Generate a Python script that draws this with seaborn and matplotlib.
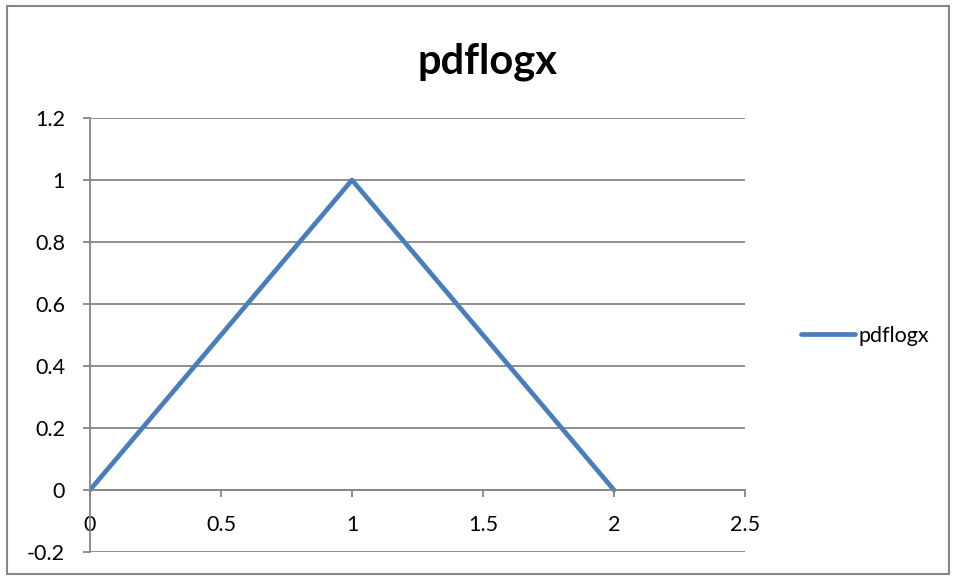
import pandas as pd
import seaborn as sns
import matplotlib.pyplot as plt
from matplotlib.patches import Rectangle

# chart values
x_vals = [0, 1, 2]
y_vals = [0, 1, 0]
series_name = "pdflogx"
x_ticks = [0, 0.5, 1, 1.5, 2, 2.5]
y_ticks = [-0.2, 0, 0.2, 0.4, 0.6, 0.8, 1, 1.2]

df = pd.DataFrame({"x": x_vals, "y": y_vals})

sns.set_theme(style="white")
plt.rcParams['font.family'] = ['Lato', 'DejaVu Sans']
plt.rcParams['text.color'] = 'black'

grey = "#868686"
fig = plt.figure(figsize=(9.56, 5.78), dpi=100)
ax = fig.add_axes([90/956, 1 - 552/578, (745 - 90)/956, (552 - 118)/578])

sns.lineplot(data=df, x="x", y="y", ax=ax, color="#4A7EBB", linewidth=3.4,
             label=series_name, solid_capstyle="round")

ax.set_xlim(0, 2.5)
ax.set_ylim(-0.2, 1.2)
ax.set_xticks(x_ticks)
ax.set_xticklabels([f"{t:g}" for t in x_ticks])
ax.set_yticks(y_ticks)
ax.set_yticklabels([f"{t:g}" for t in y_ticks])
ax.set_xlabel("")
ax.set_ylabel("")

ax.grid(axis="y", color=grey, linewidth=1.3)
ax.set_axisbelow(True)
for s in ["top", "right"]:
    ax.spines[s].set_visible(False)
ax.spines["left"].set_color(grey)
ax.spines["left"].set_linewidth(1.3)
ax.spines["bottom"].set_color(grey)
ax.spines["bottom"].set_linewidth(1.3)
ax.spines["bottom"].set_position(("data", 0))

ax.tick_params(axis="y", which="both", left=True, length=5, width=1.3, color=grey,
               labelsize=15.5, pad=13, labelcolor="black")
ax.tick_params(axis="x", which="both", bottom=True, direction="out", length=5, width=1.3,
               color=grey, labelsize=15.5, pad=13, labelcolor="black")

fig.suptitle(series_name, x=487/956, y=1 - 62/578, va="center",
             fontsize=30, fontweight="bold", color="black")

leg = ax.legend(loc="center left", bbox_to_anchor=(782/956, 1 - 336/578),
                bbox_transform=fig.transFigure, frameon=False, fontsize=15.5,
                handlelength=2.5, handletextpad=0.15)
for t in leg.get_texts():
    t.set_color("black")

fig.patches.append(Rectangle((7/956, 4/578), 942/956, 568/578, transform=fig.transFigure,
                             fill=False, edgecolor=grey, linewidth=1.5))

fig.savefig("out.png", dpi=100)
